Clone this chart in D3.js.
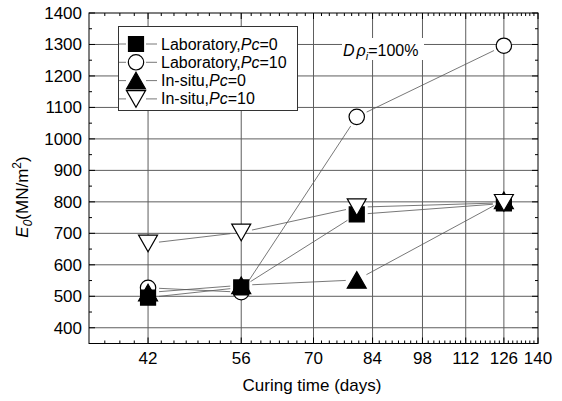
<!DOCTYPE html>
<html>
<head>
<meta charset="utf-8">
<title>E0 vs curing time</title>
<style>
  body { margin: 0; background: #fff; }
  text { font-family: "Liberation Sans", Arial, sans-serif; }
</style>
</head>
<body>
<div id="chart"></div>
<script src="https://d3js.org/d3.v7.min.js"></script>
<script>
// ---- data ----
var days = [42, 56, 80, 126];
var labPc0 = [496, 528, 760, 795];
var labPc10 = [527, 513, 1070, 1296];
var insituPc0 = [512, 535, 552, 805];
var insituPc10 = [668, 703, 783, 797];

var xTicks = [42, 56, 70, 84, 98, 112, 126, 140];
var yTicks = [400, 500, 600, 700, 800, 900, 1000, 1100, 1200, 1300, 1400];

var seriesNames = ['Laboratory,', 'Laboratory,', 'In-situ,', 'In-situ,'];
var seriesPc = ['0', '10', '0', '10'];
var seriesShapes = ['square', 'circle', 'triangle', 'invtriangle'];

// draw order in the picture: circle at back, then square, triangle, inverted triangle
var series = [
  { shape: seriesShapes[1], values: labPc10 },
  { shape: seriesShapes[0], values: labPc0 },
  { shape: seriesShapes[2], values: insituPc0 },
  { shape: seriesShapes[3], values: insituPc10 }
];

var W = 562, H = 401;
var plotL = 89, plotR = 538, plotT = 13, plotB = 343.5;

var x = d3.scaleLog().domain([35, 140]).range([plotL, plotR]);
var y = d3.scaleLinear().domain([350, 1400]).range([plotB, plotT]);

var svg = d3.select('#chart').append('svg')
    .attr('width', W)
    .attr('height', H);

svg.append('rect').attr('width', W).attr('height', H).attr('fill', '#fff');

// grid
var grid = svg.append('g').attr('stroke', '#5e5e5e').attr('stroke-width', 1);
grid.selectAll('.gx')
    .data(xTicks.filter(function(d) { return d < 140; }))
  .enter().append('line')
    .attr('x1', function(d) { return x(d); })
    .attr('x2', function(d) { return x(d); })
    .attr('y1', plotT).attr('y2', plotB);
grid.selectAll('.gy')
    .data(yTicks.filter(function(d) { return d < 1400; }))
  .enter().append('line')
    .attr('x1', plotL).attr('x2', plotR)
    .attr('y1', function(d) { return y(d); })
    .attr('y2', function(d) { return y(d); });

// minor ticks on x: 7 between majors (every 1.75 days)
var xMinor = [];
for (var v = 36.75; v < 140; v += 1.75) {
  if (xTicks.indexOf(v) < 0) xMinor.push(v);
}
var yMinor = d3.range(450, 1400, 100);

var ticks = svg.append('g').attr('stroke', '#000').attr('stroke-width', 1);
function vTicks(data, y0, len) {
  ticks.append('g').selectAll('line').data(data).enter().append('line')
    .attr('x1', function(d) { return x(d); }).attr('x2', function(d) { return x(d); })
    .attr('y1', y0).attr('y2', y0 + len);
}
function hTicks(data, x0, len) {
  ticks.append('g').selectAll('line').data(data).enter().append('line')
    .attr('x1', x0).attr('x2', x0 + len)
    .attr('y1', function(d) { return y(d); }).attr('y2', function(d) { return y(d); });
}
vTicks(xMinor, plotB, -3);
vTicks(xMinor, plotT, 3);
vTicks(xTicks, plotB, -6);
vTicks(xTicks, plotT, 6);
hTicks(yTicks, plotL, 6);
hTicks(yTicks, plotR, -6);
hTicks(yMinor, plotL, 3);
hTicks(yMinor, plotR, -3);

// frame
svg.append('rect')
    .attr('x', plotL).attr('y', plotT)
    .attr('width', plotR - plotL).attr('height', plotB - plotT)
    .attr('fill', 'none').attr('stroke', '#000').attr('stroke-width', 1);

// tick labels
svg.append('g').selectAll('text').data(xTicks).enter().append('text')
    .attr('x', function(d) { return x(d); })
    .attr('y', 364)
    .attr('text-anchor', 'middle')
    .attr('font-size', 17)
    .text(function(d) { return d; });
svg.append('g').selectAll('text').data(yTicks).enter().append('text')
    .attr('x', 82)
    .attr('y', function(d) { return y(d) + 6; })
    .attr('text-anchor', 'end')
    .attr('font-size', 17)
    .text(function(d) { return d; });

// axis titles
svg.append('text')
    .attr('x', 312).attr('y', 391)
    .attr('text-anchor', 'middle')
    .attr('font-size', 17)
    .text('Curing time (days)');

var yt = svg.append('text')
    .attr('transform', 'translate(28,197) rotate(-90)')
    .attr('text-anchor', 'middle')
    .attr('font-size', 17);
yt.append('tspan').attr('font-style', 'italic').text('E');
yt.append('tspan').attr('font-style', 'italic').attr('font-size', 12).attr('dy', 4).text('0');
yt.append('tspan').attr('dy', -4).text('(MN/m');
yt.append('tspan').attr('font-size', 12).attr('dy', -7).text('2');
yt.append('tspan').attr('dy', 7).text(')');

// marker shapes
function shapePath(shape) {
  if (shape === 'square') return 'M-7.5,-7.5H7.5V7.5H-7.5Z';
  if (shape === 'circle') return 'M7.7,0A7.7,7.7 0 1,1 -7.7,0A7.7,7.7 0 1,1 7.7,0Z';
  if (shape === 'triangle') return 'M0,-8.3L9.5,8.3L-9.5,8.3Z';
  return 'M0,8.3L9.5,-8.3L-9.5,-8.3Z';
}
function shapeFill(shape) {
  return (shape === 'square' || shape === 'triangle') ? '#000' : '#fff';
}

// connecting lines with a gap around symbols
var gap = 11;
var lines = svg.append('g').attr('stroke', '#555').attr('stroke-width', 0.8);
series.forEach(function(s) {
  for (var i = 0; i < days.length - 1; i++) {
    var x1 = x(days[i]), y1 = y(s.values[i]);
    var x2 = x(days[i + 1]), y2 = y(s.values[i + 1]);
    var len = Math.sqrt((x2 - x1) * (x2 - x1) + (y2 - y1) * (y2 - y1));
    if (len <= 2 * gap) continue;
    var ux = (x2 - x1) / len, uy = (y2 - y1) / len;
    lines.append('line')
      .attr('x1', x1 + ux * gap).attr('y1', y1 + uy * gap)
      .attr('x2', x2 - ux * gap).attr('y2', y2 - uy * gap);
  }
});

// markers
series.forEach(function(s) {
  svg.append('g').selectAll('path')
      .data(s.values)
    .enter().append('path')
      .attr('transform', function(d, i) { return 'translate(' + x(days[i]) + ',' + y(d) + ')'; })
      .attr('d', shapePath(s.shape))
      .attr('fill', shapeFill(s.shape))
      .attr('stroke', '#000')
      .attr('stroke-width', 1.2);
});

// legend
var lg = svg.append('g');
lg.append('rect')
    .attr('x', 118.5).attr('y', 26.5)
    .attr('width', 179).attr('height', 84)
    .attr('fill', '#fff').attr('stroke', '#333').attr('stroke-width', 1);
[0, 1, 2, 3].forEach(function(k, i) {
  var ly = 44 + i * 18.3;
  var row = lg.append('g');
  row.append('line').attr('x1', 119).attr('x2', 126).attr('y1', ly).attr('y2', ly)
      .attr('stroke', '#555').attr('stroke-width', 0.8);
  row.append('line').attr('x1', 146).attr('x2', 157).attr('y1', ly).attr('y2', ly)
      .attr('stroke', '#555').attr('stroke-width', 0.8);
  row.append('path')
      .attr('transform', 'translate(136,' + ly + ')')
      .attr('d', shapePath(seriesShapes[k]))
      .attr('fill', shapeFill(seriesShapes[k]))
      .attr('stroke', '#000').attr('stroke-width', 1.2);
  var t = row.append('text')
      .attr('x', 161).attr('y', ly + 5.5)
      .attr('font-size', 16);
  t.append('tspan').text(seriesNames[k]);
  t.append('tspan').attr('font-style', 'italic').text('Pc');
  t.append('tspan').text('=' + seriesPc[k]);
});

// annotation
var ann = svg.append('g');
ann.append('rect').attr('x', 342).attr('y', 38).attr('width', 82).attr('height', 22).attr('fill', '#fff');
var at = ann.append('text').attr('x', 343).attr('y', 56).attr('font-size', 16);
at.append('tspan').attr('font-style', 'italic').text('D');
at.append('tspan').attr('font-style', 'italic').attr('dx', 2).text('ρ');
at.append('tspan').attr('font-style', 'italic').attr('font-size', 11).attr('dy', 4).text('i');
at.append('tspan').attr('dy', -4).text('=100%');
</script>
</body>
</html>
